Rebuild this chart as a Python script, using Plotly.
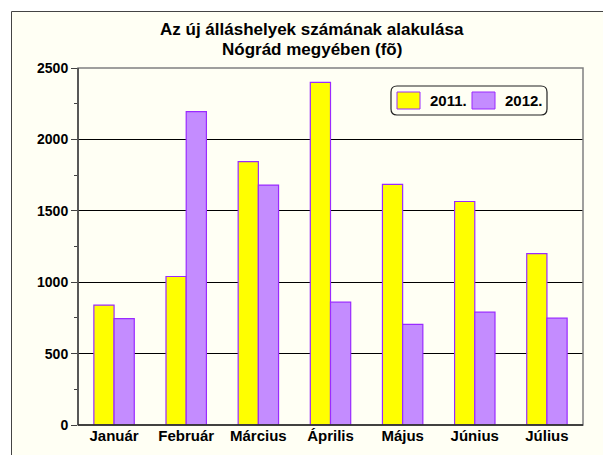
import plotly.graph_objects as go

months = ["Január", "Február", "Március", "Április", "Május", "Június", "Július"]
series_names = ["2011.", "2012."]
values_2011 = [840, 1040, 1845, 2400, 1685, 1565, 1200]
values_2012 = [745, 2195, 1680, 860, 705, 790, 748]
y_ticks = [0, 500, 1000, 1500, 2000, 2500]
title_lines = ["Az új álláshelyek számának alakulása", "Nógrád megyében (fõ)"]

BG = "#fffff4"
YELLOW = "#ffff00"
PURPLE = "#c48cff"
OUTLINE = "#9a2bff"
FONT = "Liberation Sans, Arial, sans-serif"

W, H = 603, 455
L, R, T, B = 78, 20, 68, 30
pw, ph = W - L - R, H - T - B

def px(x):
    return (x - L) / pw

def py(y):
    return (H - B - y) / ph

fig = go.Figure()
fig.add_trace(go.Bar(x=months, y=values_2011, name=series_names[0],
                     marker=dict(color=YELLOW, line=dict(color=OUTLINE, width=1.2))))
fig.add_trace(go.Bar(x=months, y=values_2012, name=series_names[1],
                     marker=dict(color=PURPLE, line=dict(color=OUTLINE, width=1.2))))

shapes = []
# outer frame (cream panel on white page)
shapes.append(dict(type="rect", xref="paper", yref="paper",
                   x0=px(11.5), x1=px(620), y0=py(11.5), y1=py(470),
                   line=dict(color="#444444", width=1), fillcolor=BG, layer="below"))
# plot area frame (top/right gray)
shapes.append(dict(type="rect", xref="paper", yref="paper", x0=0, x1=1, y0=0, y1=1,
                   line=dict(color="#808080", width=1.5), layer="above"))
# left axis line
shapes.append(dict(type="line", xref="paper", yref="paper", x0=0, x1=0, y0=0, y1=1,
                   line=dict(color="#404040", width=1.5), layer="above"))
# bottom axis
shapes.append(dict(type="line", xref="paper", yref="paper", x0=0, x1=1, y0=0, y1=0,
                   line=dict(color="#222222", width=1.5), layer="above"))

# legend rounded box
lx0, lx1, ly0, ly1, rr = px(391), px(547), py(86), py(115), 6
rx, ry = rr / pw, rr / ph
path = (f"M {lx0+rx},{ly0} L {lx1-rx},{ly0} Q {lx1},{ly0} {lx1},{ly0-ry} "
        f"L {lx1},{ly1+ry} Q {lx1},{ly1} {lx1-rx},{ly1} L {lx0+rx},{ly1} "
        f"Q {lx0},{ly1} {lx0},{ly1+ry} L {lx0},{ly0-ry} Q {lx0},{ly0} {lx0+rx},{ly0} Z")
shapes.append(dict(type="path", xref="paper", yref="paper", path=path,
                   line=dict(color="#222222", width=1.2), fillcolor=BG, layer="above"))

annotations = []
swatches = [(397, 420, YELLOW, 428), (472, 495, PURPLE, 503)]
for (sx0, sx1, col, tx), name in zip(swatches, series_names):
    shapes.append(dict(type="rect", xref="paper", yref="paper",
                       x0=px(sx0), x1=px(sx1), y0=py(92), y1=py(109),
                       line=dict(color=OUTLINE, width=1), fillcolor=col, layer="above"))
    annotations.append(dict(xref="paper", yref="paper", x=px(tx), y=py(100.5),
                            text=name, showarrow=False, xanchor="left", yanchor="middle",
                            font=dict(family=FONT, size=15, color="black", weight="bold")))

for line_text, yc in zip(title_lines, [30, 49.5]):
    annotations.append(dict(xref="paper", yref="paper", x=px(312), y=py(yc),
                            text=line_text, showarrow=False,
                            xanchor="center", yanchor="middle",
                            font=dict(family=FONT, size=17, color="black", weight="bold")))

fig.update_layout(
    width=W, height=H,
    margin=dict(l=L, r=R, t=T, b=B, pad=0),
    paper_bgcolor="#ffffff", plot_bgcolor=BG,
    barmode="group", bargap=0.44, bargroupgap=0,
    showlegend=False,
    shapes=shapes, annotations=annotations,
    xaxis=dict(showgrid=False, showline=False, ticks="",
               tickfont=dict(family=FONT, size=15, color="black", weight="bold")),
    yaxis=dict(range=[0, 2500], tickvals=y_ticks, showgrid=True, gridcolor="#000000",
               gridwidth=1, zeroline=False, showline=False,
               ticks="outside", ticklen=6, tickcolor="#404040", tickwidth=1,
               minor=dict(dtick=250, ticks="outside", ticklen=3, tickcolor="#404040", showgrid=False),
               tickfont=dict(family=FONT, size=14, color="black", weight="bold")),
)

fig.write_html("out.html", config={"displayModeBar": False},
               post_script="document.body.style.margin='0';")
